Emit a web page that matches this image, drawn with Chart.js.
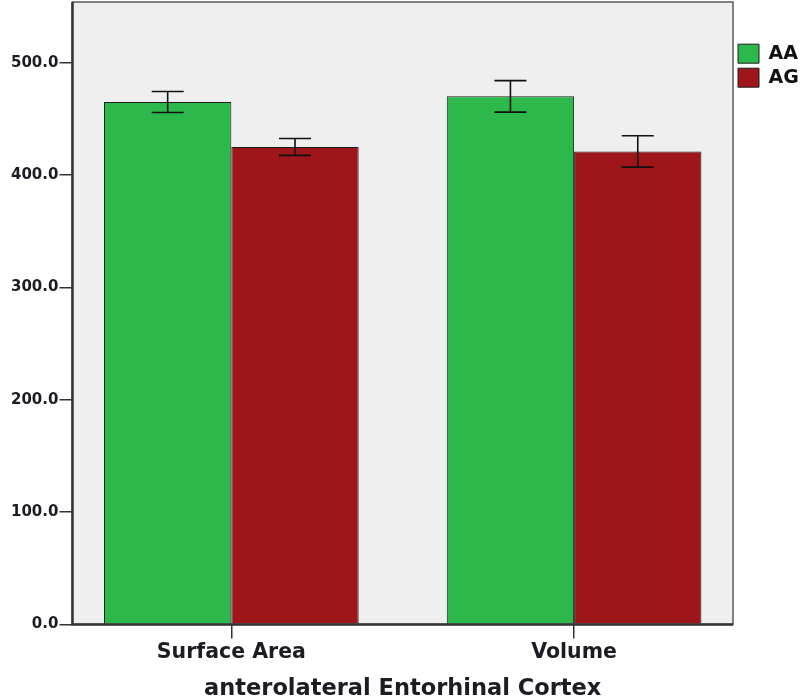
<!DOCTYPE html>
<html>
<head>
<meta charset="utf-8">
<script src="https://cdn.jsdelivr.net/npm/chart.js@4.4.1/dist/chart.umd.min.js"></script>
<style>
  html, body { margin: 0; padding: 0; background: #fff; }
</style>
</head>
<body>
<canvas id="chart" width="800" height="700"></canvas>
<script>
/* ---------- data ---------- */
const categories = ['Surface Area', 'Volume'];
const seriesNames = ['AA', 'AG'];
const aaMeans = [465, 470];
const agMeans = [425, 421];
const aaErr = [9.3, 14];
const agErr = [7.5, 14];
const yTicks = [0, 100, 200, 300, 400, 500];
const xTitle = 'anterolateral Entorhinal Cortex';

const FONT = "'DejaVu Sans', sans-serif";
const INK = '#1c1c24';

/* grey plot panel + frame, like the SPSS output */
const panel = {
  id: 'panel',
  beforeDatasetsDraw(chart) {
    const { ctx, chartArea: a } = chart;
    ctx.save();
    ctx.fillStyle = '#efefef';
    ctx.fillRect(a.left, a.top, a.right - a.left, a.bottom - a.top);
    ctx.restore();
  },
  afterDatasetsDraw(chart) {
    const { ctx, chartArea: a } = chart;
    ctx.save();
    ctx.strokeStyle = '#5a5a5a';
    ctx.lineWidth = 1.5;
    ctx.strokeRect(a.left, a.top, a.right - a.left, a.bottom - a.top);
    ctx.strokeStyle = '#333';
    ctx.lineWidth = 2.5;
    ctx.beginPath();
    ctx.moveTo(a.left, a.top);
    ctx.lineTo(a.left, a.bottom);
    ctx.lineTo(a.right, a.bottom);
    ctx.stroke();
    ctx.restore();
  }
};

/* error bars drawn from the err arrays through the y scale */
const errorBars = {
  id: 'errorBars',
  afterDatasetsDraw(chart) {
    const { ctx } = chart;
    const y = chart.scales.y;
    ctx.save();
    ctx.strokeStyle = '#111';
    ctx.lineWidth = 1.6;
    chart.data.datasets.forEach((ds, di) => {
      const meta = chart.getDatasetMeta(di);
      meta.data.forEach((bar, i) => {
        const v = ds.data[i].y, e = ds.err[i];
        const top = y.getPixelForValue(v + e);
        const bot = y.getPixelForValue(v - e);
        const half = 16;
        ctx.beginPath();
        ctx.moveTo(bar.x, top); ctx.lineTo(bar.x, bot);
        ctx.moveTo(bar.x - half, top); ctx.lineTo(bar.x + half, top);
        ctx.moveTo(bar.x - half, bot); ctx.lineTo(bar.x + half, bot);
        ctx.stroke();
      });
    });
    ctx.restore();
  }
};

const toPoints = arr => arr.map((v, i) => ({ x: i, y: v }));

new Chart(document.getElementById('chart'), {
  type: 'bar',
  data: {
    datasets: [
      { label: seriesNames[0], data: toPoints(aaMeans), err: aaErr,
        backgroundColor: '#2db84b', borderColor: '#1e1e1e', borderWidth: 1 },
      { label: seriesNames[1], data: toPoints(agMeans), err: agErr,
        backgroundColor: '#9e1619', borderColor: '#1e1e1e', borderWidth: 1 }
    ]
  },
  options: {
    responsive: false,
    animation: false,
    layout: { padding: { top: 2, left: 10, right: 0, bottom: -3 } },
    datasets: { bar: { categoryPercentage: 0.743, barPercentage: 1.0 } },
    plugins: {
      tooltip: { enabled: false },
      legend: {
        position: 'right',
        align: 'start',
        maxWidth: 67,
        title: { display: true, text: '', font: { size: 1 }, padding: { top: 36, bottom: 0 } },
        labels: {
          boxWidth: 21, boxHeight: 19, padding: 5,
          color: '#111',
          font: { family: FONT, size: 19, weight: 'bold' }
        }
      }
    },
    scales: {
      x: {
        type: 'linear',
        offset: false,
        min: -0.4636,
        max: 1.4636,
        afterBuildTicks: s => { s.ticks = categories.map((_, i) => ({ value: i })); },
        grid: { offset: false, drawOnChartArea: false, tickLength: 14, color: '#333', lineWidth: 1.5 },
        border: { display: false },
        ticks: {
          callback: v => categories[v],
          color: INK, padding: 2,
          font: { family: FONT, size: 20.5, weight: 'bold' }
        },
        title: {
          display: true, text: xTitle, color: INK,
          font: { family: FONT, size: 22.5, weight: 'bold' },
          padding: { top: 9, bottom: 0 }
        }
      },
      y: {
        min: 0,
        max: 554,
        afterBuildTicks: s => { s.ticks = yTicks.map(v => ({ value: v })); },
        afterFit: s => { s.paddingTop = 0; },
        grid: { drawOnChartArea: false, tickLength: 13, color: '#333', lineWidth: 1.5 },
        border: { display: false },
        ticks: {
          callback: v => v.toFixed(1),
          color: INK, padding: 1,
          font: { family: FONT, size: 15, weight: 'bold' }
        }
      }
    }
  },
  plugins: [panel, errorBars]
});
</script>
</body>
</html>
